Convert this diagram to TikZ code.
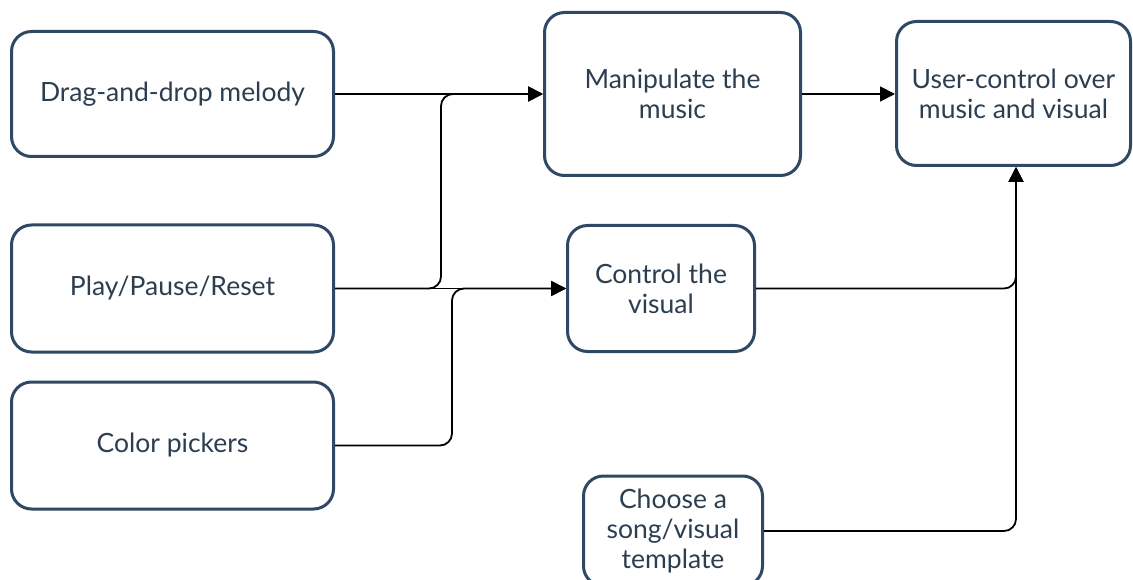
\documentclass[tikz,border=0pt]{standalone}
\usepackage{fontspec}
\setmainfont{Lato}
\usetikzlibrary{arrows.meta}
\definecolor{bd}{RGB}{47,72,99}
\definecolor{tx}{RGB}{44,62,80}
\begin{document}
\begin{tikzpicture}[x=1pt,y=-1pt,
  box/.style={draw=bd, line width=3pt, rounded corners=20pt, text=tx, align=center,
    font=\fontsize{26.5}{30}\selectfont, inner sep=0pt},
  conn/.style={draw=black, line width=1.8pt, rounded corners=12pt},
  arr/.style={conn, -{Triangle[length=15pt,width=15pt]}}]
\useasboundingbox[fill=white] (0,0) rectangle (1133,580);
\node[box, minimum width=322pt, minimum height=125pt] (drag) at (172.5,94) {Drag-and-drop melody};
\node[box, minimum width=322pt, minimum height=127pt] (play) at (172.5,288.5) {Play/Pause/Reset};
\node[box, minimum width=322pt, minimum height=127pt] (color) at (172.5,445.5) {Color pickers};
\node[box, minimum width=256pt, minimum height=163pt] (manip) at (672.5,94) {Manipulate the\\music};
\node[box, minimum width=187pt, minimum height=126pt] (ctrl) at (661,288.5) {Control the\\visual};
\node[box, minimum width=234pt, minimum height=144pt] (user) at (1013.5,93.5) {User-control over\\music and visual};
\node[box, minimum width=179pt, minimum height=110pt] (choose) at (673,531) {Choose a\\song/visual\\template};
\coordinate (j1) at (441,0);
\coordinate (j2) at (452,0);
\coordinate (j3) at (1016,0);
\draw[arr] (drag.east) -- (drag.east -| manip.west);
\draw[arr] (play.east) -- (play.east -| j1) -- (manip.west -| j1) -- (manip.west);
\draw[arr] (play.east) -- (ctrl.west);
\draw[arr] (color.east) -- (color.east -| j2) -- (ctrl.west -| j2) -- (ctrl.west);
\draw[arr] (manip.east) -- (manip.east -| user.west);
\draw[arr] (ctrl.east) -- (ctrl.east -| j3) -- (user.south -| j3);
\draw[arr] (choose.east) -- (choose.east -| j3) -- (user.south -| j3);
\end{tikzpicture}
\end{document}
